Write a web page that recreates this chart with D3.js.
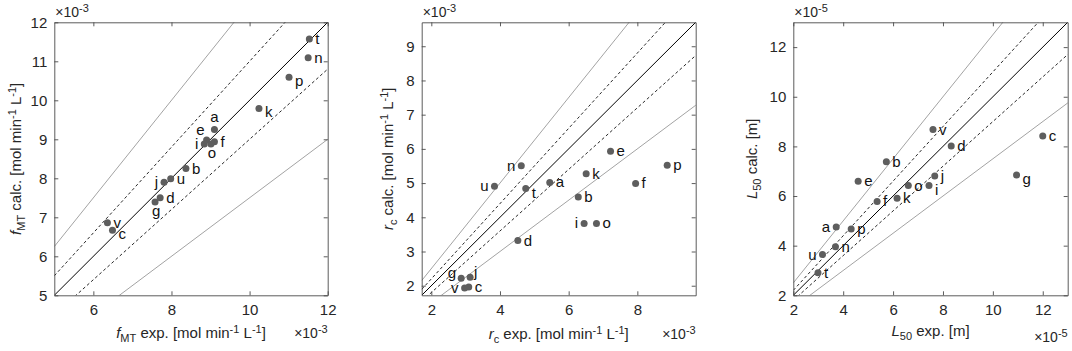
<!DOCTYPE html>
<html>
<head>
<meta charset="utf-8">
<script src="https://cdn.jsdelivr.net/npm/d3@7"></script>
<style>
  body { margin: 0; background: #fff; }
  svg { font-family: "Liberation Sans", Arial, Helvetica, sans-serif; }
</style>
</head>
<body>
<div id="chart"></div>
<script>
// sample labels, same order in every panel
var samples = ["a","b","c","d","e","f","g","i","j","k","n","o","p","t","u","v"];

// f_MT, x 10^-3 mol min^-1 L^-1
var fmt_exp  = [9.10, 8.37, 6.49, 7.71, 8.90, 9.10, 7.58, 8.84, 7.81, 10.24, 11.50, 9.01, 11.01, 11.53, 7.98, 6.36];
var fmt_calc = [9.25, 8.25, 6.67, 7.50, 8.98, 8.94, 7.39, 8.88, 7.90, 9.79, 11.09, 8.88, 10.59, 11.57, 7.99, 6.86];

// r_c, x 10^-3 mol min^-1 L^-1
var rc_exp  = [5.45, 6.28, 3.09, 4.52, 7.22, 7.95, 2.87, 6.45, 3.13, 6.51, 4.62, 6.81, 8.87, 4.75, 3.84, 2.97];
var rc_calc = [5.02, 4.59, 1.96, 3.32, 5.93, 4.99, 2.22, 3.82, 2.25, 5.27, 5.51, 3.82, 5.52, 4.84, 4.91, 1.93];

// L_50, x 10^-5 m
var l50_exp  = [3.72, 5.73, 12.00, 8.33, 4.60, 5.36, 10.95, 7.44, 7.67, 6.16, 3.69, 6.61, 4.32, 2.99, 3.17, 7.60];
var l50_calc = [4.75, 7.38, 8.42, 8.02, 6.60, 5.78, 6.85, 6.42, 6.81, 5.91, 3.96, 6.42, 4.67, 2.91, 3.64, 8.68];

var fmt_domain = [5, 12],    fmt_ticks_x = [6, 8, 10, 12], fmt_ticks_y = [5, 6, 7, 8, 9, 10, 11, 12];
var rc_domain  = [1.72, 9.7], rc_ticks_x = [2, 4, 6, 8],     rc_ticks_y  = [2, 3, 4, 5, 6, 7, 8, 9];
var l50_domain = [2, 13],    l50_ticks_x = [2, 4, 6, 8, 10, 12], l50_ticks_y = [2, 4, 6, 8, 10, 12];

// reference lines y = k*x : solid 1:1, dashed +-10 %, grey +-25 %
var ref_lines = [
  {k: 1.25, kind: "grey"}, {k: 0.75, kind: "grey"},
  {k: 1.10, kind: "dash"}, {k: 0.90, kind: "dash"},
  {k: 1.00, kind: "solid"}
];

// where each point label sits
var place = {
  r:  [6, 5, "start"], br: [6, 9, "start"], tr: [4, -0.5, "start"],
  l:  [-6, 5, "end"],  ul: [-5, 0, "end"], tl: [-2, -5, "end"],
  t:  [0, -7.5, "middle"], b: [1, 14, "middle"]
};
var place_fmt = ["t","r","br","r","tl","r","b","l","l","br","r","b","br","r","r","r"];
var place_rc  = ["r","r","r","r","r","r","ul","l","tr","r","l","r","r","br","l","l"];
var place_l50 = ["l","r","r","r","r","r","br","br","r","r","r","r","r","r","l","r"];

var W = 1072, H = 351, top_y = 22.3, bottom_y = 295.3;

var svg = d3.select("#chart").append("svg")
  .attr("width", W).attr("height", H);

// rich text: segments with optional italic / sub / sup
function rich (sel, segs, small) {
  var shift = 0;
  segs.forEach(function (s) {
    var want = s.sub ? 4 : (s.sup ? -5.5 : 0);
    var ts = sel.append("tspan").text(s.t).attr("dy", want - shift);
    if (s.i) ts.attr("font-style", "italic");
    if (s.sub || s.sup) ts.attr("font-size", small);
    shift = want;
  });
}

function draw_panel (p, idx) {
  var x = d3.scaleLinear().domain(p.domain).range([p.left, p.right]);
  var y = d3.scaleLinear().domain(p.domain).range([bottom_y, top_y]);
  var g = svg.append("g");

  g.append("clipPath").attr("id", "clip" + idx)
    .append("rect")
    .attr("x", p.left).attr("y", top_y)
    .attr("width", p.right - p.left).attr("height", bottom_y - top_y);

  var lines = g.append("g").attr("clip-path", "url(#clip" + idx + ")");
  ref_lines.forEach(function (r) {
    var x0 = p.domain[0], x1 = p.domain[1] * 1.5;
    var ln = lines.append("line")
      .attr("x1", x(x0)).attr("y1", y(r.k * x0))
      .attr("x2", x(x1)).attr("y2", y(r.k * x1))
      .attr("fill", "none");
    if (r.kind == "grey") ln.attr("stroke", "#a3a3a3").attr("stroke-width", 1);
    else if (r.kind == "dash") ln.attr("stroke", "#111").attr("stroke-width", 0.9).attr("stroke-dasharray", "3,2.5");
    else ln.attr("stroke", "#000").attr("stroke-width", 1);
  });

  // axes, MATLAB style: ticks inside, box on
  var tick = 4, fmt = function (d) { return String(d); };
  var ax_b = g.append("g").attr("transform", "translate(0," + bottom_y + ")")
    .call(d3.axisBottom(x).tickValues(p.ticks_x).tickFormat(fmt).tickSizeInner(-tick).tickSizeOuter(0).tickPadding(9));
  var ax_l = g.append("g").attr("transform", "translate(" + p.left + ",0)")
    .call(d3.axisLeft(y).tickValues(p.ticks_y).tickFormat(fmt).tickSizeInner(-tick).tickSizeOuter(0).tickPadding(7));
  var ax_t = g.append("g").attr("transform", "translate(0," + top_y + ")")
    .call(d3.axisTop(x).tickValues(p.ticks_x).tickSizeInner(-tick).tickSizeOuter(0).tickFormat(""));
  var ax_r = g.append("g").attr("transform", "translate(" + p.right + ",0)")
    .call(d3.axisRight(y).tickValues(p.ticks_y).tickSizeInner(-tick).tickSizeOuter(0).tickFormat(""));
  [ax_b, ax_l, ax_t, ax_r].forEach(function (a) {
    a.selectAll("path, line").attr("stroke", "#4a4a4a").attr("stroke-width", 0.9);
    a.selectAll("text").attr("fill", "#262626").attr("font-size", 15)
      .attr("font-family", "'Liberation Sans', Arial, sans-serif");
  });

  // points
  var pts = p.ex.map(function (v, i) { return {x: v, y: p.calc[i], name: samples[i], pos: p.place[i]}; });
  g.selectAll("circle.pt").data(pts).enter().append("circle")
    .attr("class", "pt")
    .attr("cx", function (d) { return x(d.x); })
    .attr("cy", function (d) { return y(d.y); })
    .attr("r", 3.5)
    .attr("fill", "#5e5e5e");
  g.selectAll("text.lab").data(pts).enter().append("text")
    .attr("class", "lab")
    .attr("x", function (d) { return x(d.x) + place[d.pos][0]; })
    .attr("y", function (d) { return y(d.y) + place[d.pos][1]; })
    .attr("text-anchor", function (d) { return place[d.pos][2]; })
    .attr("font-size", 15)
    .attr("fill", "#111")
    .text(function (d) { return d.name; });

  // axis labels
  var xl = g.append("text")
    .attr("x", (p.left + p.right) / 2).attr("y", p.xlab_y)
    .attr("text-anchor", "middle").attr("font-size", 15).attr("fill", "#262626");
  rich(xl, p.xlab, 11);
  var yl = g.append("text")
    .attr("transform", "translate(" + p.ylab_x + "," + (top_y + bottom_y) / 2 + ") rotate(-90)")
    .attr("text-anchor", "middle").attr("font-size", 15).attr("fill", "#262626");
  rich(yl, p.ylab, 11);

  // exponent markers
  var e1 = g.append("text").attr("x", p.left + 1).attr("y", 17)
    .attr("font-size", 14).attr("fill", "#262626");
  rich(e1, [{t: "\u00d710"}, {t: p.expo, sup: true}], 11);
  var e2 = g.append("text").attr("x", p.right).attr("y", p.expo_y)
    .attr("text-anchor", "end").attr("font-size", 14).attr("fill", "#262626");
  rich(e2, [{t: "\u00d710"}, {t: p.expo, sup: true}], 11);
}

var unit = [{t: " [mol min"}, {t: "-1", sup: true}, {t: " L"}, {t: "-1", sup: true}, {t: "]"}];

var panels = [
  {left: 54.3, right: 327.7, domain: fmt_domain, ticks_x: fmt_ticks_x, ticks_y: fmt_ticks_y,
   ex: fmt_exp, calc: fmt_calc, place: place_fmt, expo: "-3",
   xlab: [{t: "f", i: true}, {t: "MT", sub: true}, {t: " exp."}].concat(unit),
   ylab: [{t: "f", i: true}, {t: "MT", sub: true}, {t: " calc."}].concat(unit),
   xlab_y: 338, ylab_x: 21, expo_y: 338},
  {left: 421.7, right: 695.7, domain: rc_domain, ticks_x: rc_ticks_x, ticks_y: rc_ticks_y,
   ex: rc_exp, calc: rc_calc, place: place_rc, expo: "-3",
   xlab: [{t: "r", i: true}, {t: "c", sub: true}, {t: " exp."}].concat(unit),
   ylab: [{t: "r", i: true}, {t: "c", sub: true}, {t: " calc."}].concat(unit),
   xlab_y: 339, ylab_x: 393, expo_y: 339},
  {left: 793.3, right: 1067.7, domain: l50_domain, ticks_x: l50_ticks_x, ticks_y: l50_ticks_y,
   ex: l50_exp, calc: l50_calc, place: place_l50, expo: "-5",
   xlab: [{t: "L", i: true}, {t: "50", sub: true}, {t: " exp. [m]"}],
   ylab: [{t: "L", i: true}, {t: "50", sub: true}, {t: " calc. [m]"}],
   xlab_y: 336, ylab_x: 757, expo_y: 342}
];

panels.forEach(draw_panel);
</script>
</body>
</html>
